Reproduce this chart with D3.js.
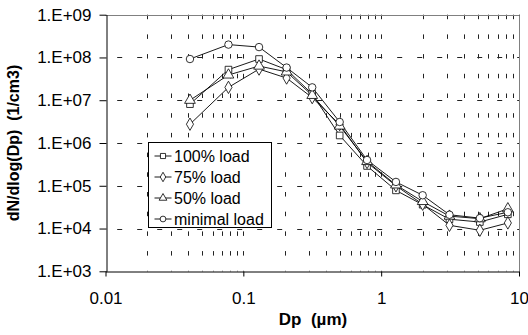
<!DOCTYPE html>
<html>
<head>
<meta charset="utf-8">
<script src="https://cdn.jsdelivr.net/npm/d3@7"></script>
<style>
  body { margin: 0; background: #fff; }
  text { font-family: Arial, "Liberation Sans", sans-serif; }
  .title { white-space: pre; }
</style>
</head>
<body>
<div id="chart"></div>
<script>
// particle diameter (um)
var dp = [0.041, 0.078, 0.13, 0.206, 0.316, 0.5, 0.79, 1.28, 2.0, 3.13, 5.2, 8.3];

// dN/dlog(Dp) per load case
var load100 = [8.1e6, 5.2e7, 9.2e7, 5.2e7, 1.4e7, 1.5e6, 2.9e5, 7.8e4, 3.6e4, 1.65e4, 1.42e4, 2.15e4];
var load75 = [2.75e6, 2.0e7, 5.35e7, 3.3e7, 1.15e7, 2.7e6, 3.5e5, 1.0e5, 3.7e4, 1.19e4, 9.1e3, 1.35e4];
var load50 = [1.0e7, 3.9e7, 6.3e7, 4.6e7, 1.3e7, 2.5e6, 3.7e5, 1.05e5, 4.3e4, 1.95e4, 1.7e4, 2.9e4];
var loadMin = [9.2e7, 2.0e8, 1.75e8, 5.8e7, 2.0e7, 3.1e6, 4.0e5, 1.23e5, 6.0e4, 2.1e4, 1.75e4, 2.4e4];

var seriesNames = ["100% load", "75% load", "50% load", "minimal load"];
var seriesValues = [load100, load75, load50, loadMin];
var seriesSymbols = [d3.symbolSquare, d3.symbolDiamond, d3.symbolTriangle, d3.symbolCircle];

var yTicks = [1e3, 1e4, 1e5, 1e6, 1e7, 1e8, 1e9];
var xTicks = [0.01, 0.1, 1, 10];
var xTickLabels = ["0.01", "0.1", "1", "10"];

(function() {
    var width = 528, height = 335;
    var pLeft = 105.5, pRight = 519, pTop = 14.7, pBottom = 271.3;

    var svg = d3.select("#chart").append("svg")
        .attr("width", width)
        .attr("height", height);

    var x = d3.scaleLog().domain([0.01, 10]).range([pLeft, pRight]);
    var y = d3.scaleLog().domain([1e3, 1e9]).range([pBottom, pTop]);

    // vertical dashed grid at every minor/major x tick
    svg.append("g").selectAll("line")
        .data(x.ticks().filter(function(d) { return d > 0.011; }))
        .enter().append("line")
        .attr("x1", function(d) { return Math.round(x(d)) + 0.5; })
        .attr("x2", function(d) { return Math.round(x(d)) + 0.5; })
        .attr("y1", pTop)
        .attr("y2", pBottom)
        .attr("stroke", "#222")
        .attr("stroke-dasharray", "4.5,15.2");

    // horizontal dashed grid at decades
    svg.append("g").selectAll("line")
        .data(yTicks.slice(1, -1))
        .enter().append("line")
        .attr("x1", pLeft)
        .attr("x2", pRight)
        .attr("y1", function(d) { return Math.round(y(d)) + 0.5; })
        .attr("y2", function(d) { return Math.round(y(d)) + 0.5; })
        .attr("stroke", "#222")
        .attr("stroke-dasharray", "5,15")
        .attr("stroke-dashoffset", 8.3);

    // plot border top / right
    svg.append("path")
        .attr("d", "M" + pLeft + "," + (Math.round(pTop) + 0.5) + "H" + (Math.round(pRight) + 0.5) + "V" + pBottom)
        .attr("fill", "none")
        .attr("stroke", "#808080");

    // axes
    var fmt = function(d) { return "1.E+" + d3.format("02d")(Math.round(Math.log10(d))); };

    var yAxis = svg.append("g")
        .attr("transform", "translate(" + (Math.round(pLeft) + 0.5) + ",0)")
        .call(d3.axisLeft(y).tickValues(yTicks).tickFormat(fmt).tickSize(7).tickPadding(8).tickSizeOuter(0));

    var xAxis = svg.append("g")
        .attr("transform", "translate(0," + (Math.round(pBottom) + 0.5) + ")")
        .call(d3.axisBottom(x).tickValues(xTicks).tickFormat(function(d, i) { return xTickLabels[i]; })
            .tickSize(5).tickPadding(15).tickSizeOuter(0));

    [yAxis, xAxis].forEach(function(a) {
        a.selectAll("path, line").attr("stroke", "#000");
        a.selectAll("text").attr("font-size", 17).attr("font-family", "Arial, 'Liberation Sans', sans-serif").attr("fill", "#000");
    });

    // series
    var line = d3.line()
        .x(function(d) { return x(d[0]); })
        .y(function(d) { return y(d[1]); });

    seriesValues.forEach(function(vals) {
        var pts = dp.map(function(d, i) { return [d, vals[i]]; });
        svg.append("path")
            .datum(pts)
            .attr("d", line)
            .attr("fill", "none")
            .attr("stroke", "#000")
            .attr("stroke-width", 0.9);
    });

    seriesValues.forEach(function(vals, s) {
        var pts = dp.map(function(d, i) { return [d, vals[i]]; });
        svg.append("g").selectAll("path")
            .data(pts)
            .enter().append("path")
            .attr("transform", function(d) { return "translate(" + x(d[0]) + "," + y(d[1]) + ")"; })
            .attr("d", d3.symbol().type(seriesSymbols[s]).size(s === 2 ? 50 : 44))
            .attr("fill", "#fff")
            .attr("stroke", "#000")
            .attr("stroke-width", 0.8);
    });

    // legend
    var lg = svg.append("g").attr("transform", "translate(148.5,142.5)");
    lg.append("rect")
        .attr("width", 123)
        .attr("height", 85)
        .attr("fill", "#fff")
        .attr("stroke", "#000");

    var item = lg.selectAll("g.item")
        .data(seriesNames)
        .enter().append("g")
        .attr("transform", function(d, i) { return "translate(0," + (13.5 + i * 21) + ")"; });

    item.append("line")
        .attr("x1", 6).attr("x2", 23)
        .attr("stroke", "#000").attr("stroke-width", 0.9);
    item.append("path")
        .attr("transform", "translate(14.5,0)")
        .attr("d", function(d, i) { return d3.symbol().type(seriesSymbols[i]).size(26)(); })
        .attr("fill", "#fff")
        .attr("stroke", "#000")
        .attr("stroke-width", 0.8);
    item.append("text")
        .attr("x", 25.5)
        .attr("dy", "0.36em")
        .attr("font-size", 16)
        .text(function(d) { return d; });

    // axis titles
    svg.append("text")
        .attr("class", "title")
        .attr("x", 313)
        .attr("y", 325)
        .attr("text-anchor", "middle")
        .attr("font-size", 17)
        .attr("font-weight", "bold")
        .text("Dp  (µm)");

    svg.append("text")
        .attr("class", "title")
        .attr("transform", "translate(19," + ((pTop + pBottom) / 2) + ") rotate(-90)")
        .attr("text-anchor", "middle")
        .attr("font-size", 16)
        .attr("font-weight", "bold")
        .text("dN/dlog(Dp)  (1/cm3)");
})();
</script>
</body>
</html>
